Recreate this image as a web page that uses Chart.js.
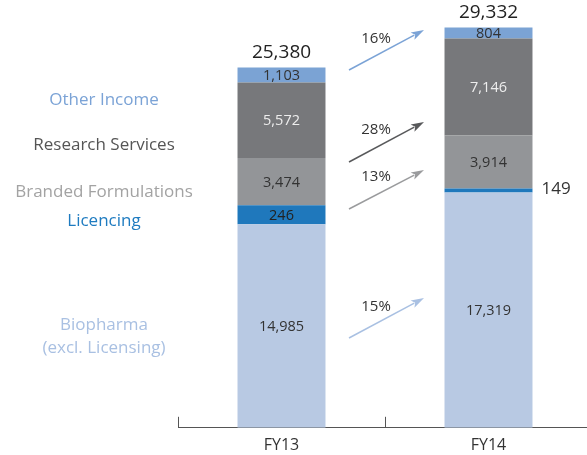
<!DOCTYPE html>
<html><head><meta charset="utf-8">
<script src="https://cdn.jsdelivr.net/npm/chart.js@4"></script>
<style>html,body{margin:0;padding:0;overflow:hidden;background:#fff}#wrap{width:587px;height:455px;overflow:hidden;position:relative}canvas{display:block}</style>
</head><body><div id="wrap"><canvas id="c" width="600" height="465"></canvas></div>
<script>
// ---- data ----
const categories = ['FY13', 'FY14'];
const biopharma = [14985, 17319];
const licencing = [246, 149];
const branded = [3474, 3914];
const research = [5572, 7146];
const otherIncome = [1103, 804];
const totals = [25380, 29332];
const growthLabels = ['16%', '28%', '13%', '15%'];
const seriesLabels = ['Other Income', 'Research Services', 'Branded Formulations', 'Licencing', ['Biopharma', '(excl. Licensing)']];

// ---- styles ----
const FONT = "'Open Sans', 'Noto Sans', sans-serif";
const C = {
  bio: '#B8C9E3', lic: '#1F78BC', brand: '#939598', res: '#77787B', other: '#7BA3D4',
  bioText: '#A9C0E2', licText: '#1E7BC0', brandText: '#A3A3A3', resText: '#555555', otherText: '#7BA3D6'
};

const fmt = v => v.toLocaleString('en-US');

const datasets = [
  { label: 'Biopharma (excl. Licensing)', data: biopharma, backgroundColor: C.bio, txt: '#333' },
  { label: 'Licencing', data: [licencing[0], null], backgroundColor: C.lic, minBarLength: 19, txt: '#222' },
  { label: 'Licencing ', data: [null, licencing[1]], backgroundColor: C.lic, minBarLength: 4, outside: true, txt: '#333' },
  { label: 'Branded Formulations', data: branded, backgroundColor: C.brand, txt: '#333' },
  { label: 'Research Services', data: research, backgroundColor: C.res, txt: '#EEEEEE' },
  { label: 'Other Income', data: otherIncome, backgroundColor: C.other, txt: '#333' }
];
datasets.forEach(d => { d.stack = 's'; d.borderWidth = 0; d.barPercentage = 0.425; d.categoryPercentage = 1; });

// left-side label layout (pixel positions, annotations)
const sideLabelLayout = [
  { y: 100, color: C.otherText },
  { y: 145, color: C.resText },
  { y: 192, color: C.brandText },
  { y: 221, color: C.licText },
  { y: 325, color: C.bioText, lh: 23 }
];
// growth arrows layout
const arrowLayout = [
  { y0: 70, y1: 30, color: '#7BA3D6', ly: 39 },
  { y0: 162, y1: 122, color: '#58595B', ly: 130 },
  { y0: 209, y1: 170, color: '#9A9B9D', ly: 177 },
  { y0: 338, y1: 298, color: '#A9C0E2', ly: 307 }
];

const annot = {
  id: 'annot',
  afterDatasetsDraw(chart) {
    const ctx = chart.ctx;
    const xs = chart.scales.x;
    const area = chart.chartArea;
    ctx.save();
    // segment labels
    chart.data.datasets.forEach((ds, di) => {
      const meta = chart.getDatasetMeta(di);
      ds.data.forEach((v, i) => {
        if (v == null) return;
        const el = meta.data[i];
        const cy = (el.y + el.base) / 2;
        ctx.textBaseline = 'middle';
        if (ds.outside) {
          ctx.font = '17px ' + FONT;
          ctx.fillStyle = '#333';
          ctx.textAlign = 'left';
          ctx.fillText(fmt(v), el.x + el.width / 2 + 9, cy - 1);
        } else {
          ctx.font = '14.5px ' + FONT;
          ctx.fillStyle = ds.txt;
          ctx.textAlign = 'center';
          ctx.fillText(fmt(v), el.x, cy + 1);
        }
      });
    });
    // totals
    const topMeta = chart.getDatasetMeta(chart.data.datasets.length - 1);
    totals.forEach((t, i) => {
      const el = topMeta.data[i];
      ctx.font = '19px ' + FONT;
      ctx.fillStyle = '#222';
      ctx.textAlign = 'center';
      ctx.textBaseline = 'middle';
      ctx.fillText(fmt(t), el.x, el.y - 15);
    });
    // side labels
    ctx.font = '17px ' + FONT;
    ctx.textAlign = 'center';
    ctx.textBaseline = 'middle';
    seriesLabels.forEach((lab, i) => {
      const L = sideLabelLayout[i];
      ctx.fillStyle = L.color;
      const lines = Array.isArray(lab) ? lab : [lab];
      lines.forEach((s, k) => ctx.fillText(s, 104, L.y + k * (L.lh || 0)));
    });
    // arrows
    const mid = (xs.getPixelForValue(0) + xs.getPixelForValue(1)) / 2;
    const ax0 = mid - 36, ax1 = mid + 39;
    arrowLayout.forEach((a, i) => {
      const ang = Math.atan2(a.y1 - a.y0, ax1 - ax0);
      const hl = 13, hw = 4;
      const bx = ax1 - hl * Math.cos(ang), by = a.y1 - hl * Math.sin(ang);
      ctx.strokeStyle = a.color;
      ctx.fillStyle = a.color;
      ctx.lineWidth = 1.5;
      ctx.beginPath();
      ctx.moveTo(ax0, a.y0);
      ctx.lineTo(bx + 2 * Math.cos(ang), by + 2 * Math.sin(ang));
      ctx.stroke();
      ctx.beginPath();
      ctx.moveTo(ax1, a.y1);
      ctx.lineTo(bx - hw * Math.sin(ang), by + hw * Math.cos(ang));
      ctx.lineTo(bx + 3 * Math.cos(ang), by + 3 * Math.sin(ang));
      ctx.lineTo(bx + hw * Math.sin(ang), by - hw * Math.cos(ang));
      ctx.closePath();
      ctx.fill();
      ctx.font = '15px ' + FONT;
      ctx.fillStyle = '#333';
      ctx.textAlign = 'center';
      ctx.textBaseline = 'middle';
      ctx.fillText(growthLabels[i], mid - 9, a.ly);
    });
    // axis tick marks (pointing up)
    ctx.strokeStyle = '#555';
    ctx.lineWidth = 1;
    [area.left, mid, area.right].forEach(x => {
      const px = Math.round(x) + 0.5;
      ctx.beginPath();
      ctx.moveTo(px, area.bottom - 11);
      ctx.lineTo(px, area.bottom);
      ctx.stroke();
    });
    ctx.restore();
  }
};

new Chart(document.getElementById('c'), {
  type: 'bar',
  data: { labels: categories, datasets },
  options: {
    responsive: false,
    animation: false,
    layout: { padding: { left: 178, right: 8, top: 0, bottom: 2 } },
    plugins: { legend: { display: false }, tooltip: { enabled: false } },
    scales: {
      x: {
        stacked: true,
        grid: { display: false, drawTicks: false },
        border: { display: true, color: '#555', width: 1 },
        ticks: { color: '#333', font: { family: FONT, size: 16 }, padding: 8 }
      },
      y: {
        stacked: true, display: false, min: 0, max: 31500
      }
    }
  },
  plugins: [annot]
});
</script>
</body></html>
